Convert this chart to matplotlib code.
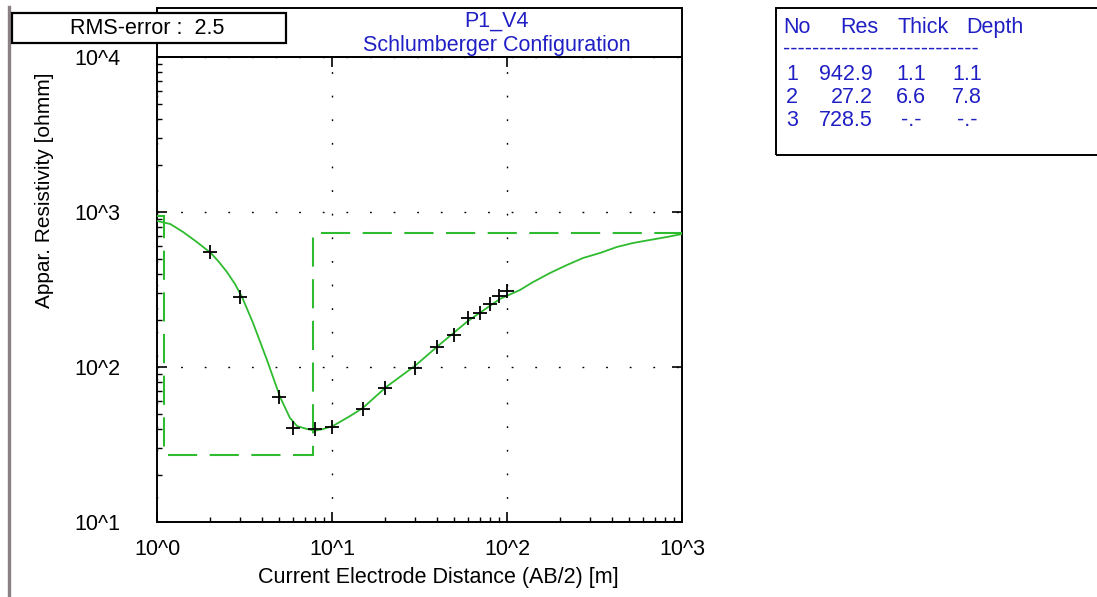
import numpy as np
import matplotlib
matplotlib.use("Agg")
import matplotlib.pyplot as plt
from matplotlib.patches import Rectangle
from matplotlib.lines import Line2D
from matplotlib.ticker import FuncFormatter, NullFormatter

plt.rcParams['font.family'] = ['Liberation Sans', 'DejaVu Sans']

# field data: AB/2 [m] and apparent resistivity [ohmm]
ab2 = [2, 3, 5, 6, 8, 10, 15, 20, 30, 40, 50, 60, 70, 80, 90, 100]
rho_a = [550, 283, 64, 40.5, 40, 41, 53.5, 73, 98.5, 134, 160, 207, 223, 255, 287, 309]

# calculated response of the layered model
ab2_calc = [1.0, 1.19, 1.41, 1.69, 2.03, 2.26, 2.51, 2.79, 3.06, 3.54, 4.25, 5.05,
            5.75, 6.31, 7.2, 8.0, 8.89, 10.1, 12.7, 15.0, 20.4, 30.2, 40.3, 59.8,
            91.2, 118.7, 140.8, 176, 220, 272, 340, 425, 525, 656, 821, 1000]
rho_calc = [875, 837, 743, 640, 544, 476, 410, 343, 283, 192, 111, 64,
            46.9, 41.6, 39.8, 38.8, 39.8, 41.6, 48.3, 54.4, 74.3, 103, 136.6, 198,
            275, 314, 353, 404, 455, 505, 544, 595, 631, 660, 690, 721]

# inverted model
layer_no = [1, 2, 3]
layer_res = [942.9, 27.2, 728.5]
layer_thick = ['1.1', '6.6', '-.-']
layer_depth = ['1.1', '7.8', '-.-']
depths = [1.1, 7.8]

W, H = 1097, 597
BLUE = '#1f1fc4'
GREEN = '#2fbb2f'
FS = 15.5


def fpos(x, y):
    # pixel position -> figure fraction
    return x / W, 1 - y / H


fig = plt.figure(figsize=(W / 100, H / 100), dpi=100)
fig.patch.set_facecolor('white')

ax = fig.add_axes([157 / W, 1 - 522 / H, 525 / W, 465 / H])
ax.set_xscale('log')
ax.set_yscale('log')
ax.set_xlim(1, 1000)
ax.set_ylim(10, 1e4)

# model as step line
edges = [1.0] + depths + [1000.0]
ax.stairs(layer_res, edges, baseline=None, color=GREEN, lw=1.5,
          linestyle=(0, (14, 6)), zorder=3)

# calculated curve and measured points
ax.plot(ab2_calc, rho_calc, color=GREEN, lw=1.3, zorder=4)
ax.plot(ab2, rho_a, '+', color='black', ms=10, mew=1.3, zorder=5)

ax.grid(True, which='major', color='black', linestyle=(0, (1.3, 15.7)), lw=1.0)

fmt = FuncFormatter(lambda v, p: "10^%d" % int(round(np.log10(v))))
ax.xaxis.set_major_formatter(fmt)
ax.yaxis.set_major_formatter(fmt)
ax.xaxis.set_minor_formatter(NullFormatter())
ax.yaxis.set_minor_formatter(NullFormatter())

ax.tick_params(which='major', direction='in', length=7, width=1.2,
               top=True, right=True, labelsize=FS)
ax.tick_params(which='minor', direction='in', length=3.5, width=1,
               top=False, right=False)
ax.tick_params(axis='x', which='major', pad=12)
ax.tick_params(axis='y', which='major', pad=43)
for lab in ax.get_yticklabels():
    lab.set_horizontalalignment('center')

for s in ax.spines.values():
    s.set_linewidth(1.4)

# axis titles
fig.text(*fpos(45, 190), "Appar. Resistivity [ohmm]", rotation=90,
         ha='center', va='center', fontsize=15)
fig.text(*fpos(438, 578), "Current Electrode Distance (AB/2) [m]",
         ha='center', va='center', fontsize=FS)

# header above the plot
x0, y0 = fpos(157, 57)
fig.add_artist(Rectangle((x0, y0), 525 / W, 49 / H, transform=fig.transFigure,
                         fill=False, edgecolor='black', lw=1.4))
fig.text(*fpos(497, 21), "P1_V4", ha='center', va='center', fontsize=FS, color=BLUE)
fig.text(*fpos(497, 46), "Schlumberger Configuration", ha='center', va='center',
         fontsize=FS, color=BLUE)

# RMS box
x0, y0 = fpos(12, 43)
fig.add_artist(Rectangle((x0, y0), 274 / W, 30 / H, transform=fig.transFigure,
                         facecolor='white', edgecolor='black', lw=1.6, zorder=5))
fig.text(*fpos(147, 29), "RMS-error :  2.5", ha='center', va='center',
         fontsize=FS, zorder=6)

# gray border on the left
fig.add_artist(Line2D([9 / W, 9 / W], [1 - 7 / H, 0], color='#8a8282', lw=2.4))

# layer table
x0, y0 = fpos(776, 155)
fig.add_artist(Rectangle((x0, y0), 340 / W, 147 / H, transform=fig.transFigure,
                         fill=False, edgecolor='black', lw=1.4, clip_on=False))
tkw = dict(va='baseline', fontsize=FS, color=BLUE)
fig.text(*fpos(783, 33), "No", ha='left', **tkw)
fig.text(*fpos(840, 33), "Res", ha='left', **tkw)
fig.text(*fpos(897, 33), "Thick", ha='left', **tkw)
fig.text(*fpos(966, 33), "Depth", ha='left', **tkw)
fig.text(*fpos(783, 49), "-" * 27, ha='left', va='center', fontsize=FS, color=BLUE)
for i in range(len(layer_no)):
    yy = 80 + 23 * i
    fig.text(*fpos(786, yy), str(layer_no[i]), ha='left', **tkw)
    fig.text(*fpos(873, yy), "%.1f" % layer_res[i], ha='right', **tkw)
    fig.text(*fpos(911, yy), layer_thick[i], ha='center', **tkw)
    fig.text(*fpos(967, yy), layer_depth[i], ha='center', **tkw)

fig.savefig("out.png", dpi=100)
